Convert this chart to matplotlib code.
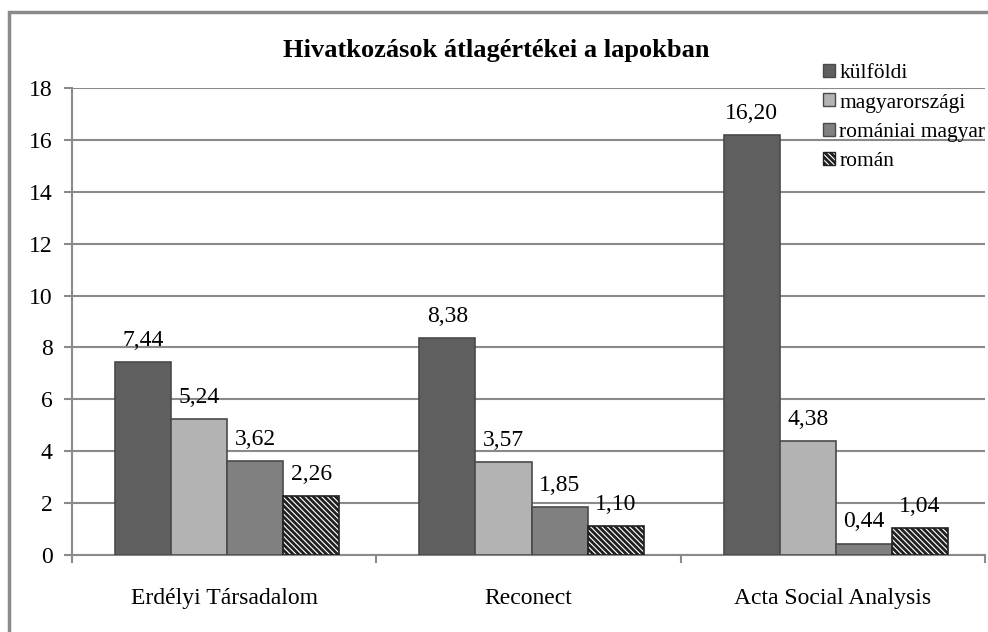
import numpy as np
import matplotlib
matplotlib.use("Agg")
from matplotlib import pyplot as plt
from matplotlib.patches import Patch, Rectangle

plt.rcParams['font.family'] = ['Liberation Serif', 'DejaVu Serif']
plt.rcParams['hatch.linewidth'] = 2.0

# data
journals = ['Erdélyi Társadalom', 'Reconect', 'Acta Social Analysis']
series = ['külföldi', 'magyarországi', 'romániai magyar', 'román']
kulfoldi = [7.44, 8.38, 16.20]
magyarorszagi = [5.24, 3.57, 4.38]
romaniai_magyar = [3.62, 1.85, 0.44]
roman = [2.26, 1.10, 1.04]
values = [kulfoldi, magyarorszagi, romaniai_magyar, roman]

colors = ['#5f5f5f', '#b3b3b3', '#808080', 'white']
hatches = [None, None, None, '\\\\\\\\\\\\']
edges = ['#4a4a4a', '#4a4a4a', '#4a4a4a', '#202020']

fig = plt.figure(figsize=(9.88, 6.32), dpi=100)
ax = fig.add_axes([72 / 988, 1 - 555 / 632, 913 / 988, 467 / 632])

# outer frame
fig.patches.append(Rectangle((9 / 988, -0.1), 1.1, 1 - 12 / 632 + 0.1,
                             transform=fig.transFigure, fill=False,
                             edgecolor='#8a8a8a', linewidth=2.5))

x = np.arange(len(journals))
width = 56 / 304
for i, vals in enumerate(values):
    pos = x + (i - 1.5) * width + 0.01
    ax.bar(pos, vals, width, color=colors[i], edgecolor=edges[i],
           linewidth=1.2, hatch=hatches[i], zorder=3, label=series[i])
    for xp, v in zip(pos, vals):
        ax.text(xp, v + 0.62, f'{v:.2f}'.replace('.', ','), ha='center',
                va='baseline', fontsize=17)

ax.set_xlim(-0.5, 2.5)
ax.set_ylim(0, 18)
ax.set_yticks(np.arange(0, 19, 2))
ax.yaxis.grid(True, color='#8a8a8a', linewidth=1.5, zorder=0)
ax.set_axisbelow(True)
ax.set_xticks([-0.5, 0.5, 1.5, 2.5])
ax.set_xticklabels([])
ax.set_xticks(x, minor=True)
ax.set_xticklabels(journals, minor=True, fontsize=17)
ax.tick_params(axis='x', which='minor', length=0, pad=24)
ax.tick_params(axis='x', which='major', length=6, width=1.5, color='#8a8a8a')
ax.tick_params(axis='y', length=6, width=1.5, color='#8a8a8a', labelsize=17, pad=8)
for s in ['top', 'right']:
    ax.spines[s].set_visible(False)
for s in ['left', 'bottom']:
    ax.spines[s].set_color('#8a8a8a')
    ax.spines[s].set_linewidth(1.5)

fig.text(496 / 988, 1 - 50 / 632, 'Hivatkozások átlagértékei a lapokban',
         ha='center', va='center', fontsize=19, fontweight='bold')

handles = [Patch(facecolor=colors[i], edgecolor=edges[i], hatch=hatches[i])
           for i in range(4)]
fig.legend(handles, series, loc='upper left',
           bbox_to_anchor=(823 / 988, 1 - 64 / 632), frameon=False,
           fontsize=15.5, handlelength=0.55, handleheight=0.55,
           handletextpad=0.2, labelspacing=0.48, borderaxespad=0,
           borderpad=0)

fig.savefig('out.png', dpi=100)
